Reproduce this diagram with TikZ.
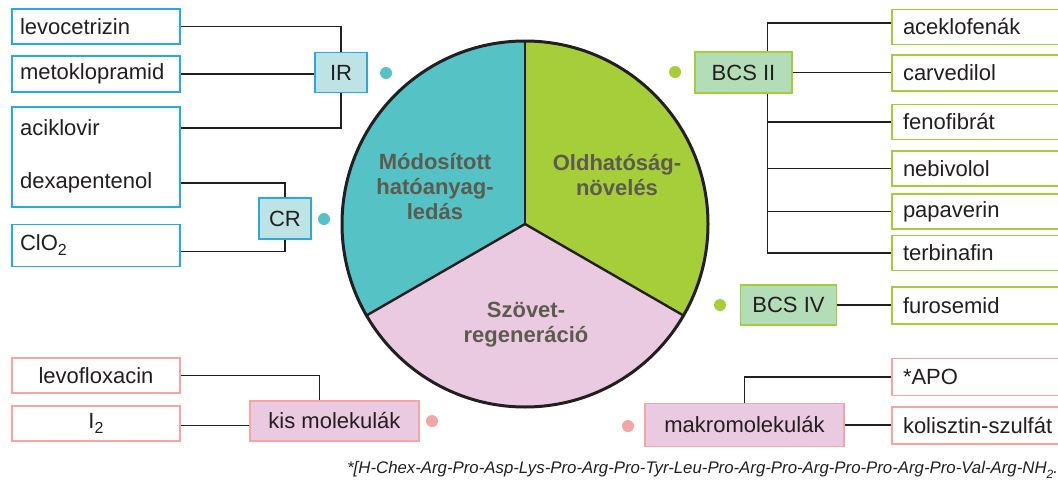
\documentclass[tikz,border=0pt]{standalone}
\usepackage{fontspec}
\setmainfont{Liberation Sans}
\usepackage{tikz}
\usetikzlibrary{positioning}
\usepackage{xcolor}
\definecolor{bluebor}{HTML}{27AAE1}
\definecolor{irfill}{HTML}{BDE3E5}
\definecolor{tealpie}{HTML}{55C2C5}
\definecolor{greenbor}{HTML}{A5CD39}
\definecolor{bcsfill}{HTML}{B3DDB6}
\definecolor{greenpie}{HTML}{A6CE39}
\definecolor{pinkbor}{HTML}{F4A5A4}
\definecolor{pinkfill}{HTML}{EACAE1}
\definecolor{darktext}{HTML}{231F20}
\definecolor{pietxt}{HTML}{5C5B4E}
\newcommand{\lowidx}[1]{\raisebox{-5pt}{\fontsize{16}{16}\selectfont #1}}

\tikzset{
  boxbase/.style = {line width=1.8pt, inner sep=0pt, text=darktext, font=\fontsize{22}{26}\selectfont},
  leftbox/.style = {boxbase, draw=bluebor, fill=white, minimum width=168pt, text width=152pt, inner xsep=8pt, align=left},
  rightbox/.style = {boxbase, draw=greenbor, fill=white, minimum width=180pt, text width=158pt, inner xsep=11pt, align=left},
  pinkbox/.style = {boxbase, draw=pinkbor, fill=white, minimum width=168pt, align=center},
  catbox/.style = {boxbase, align=center},
  plain/.style = {inner sep=0pt, text=darktext, font=\fontsize{22}{26}\selectfont},
  dotmark/.style = {circle, inner sep=0pt, minimum size=12pt},
  pietext/.style = {align=center, text=pietxt, font=\bfseries\fontsize{22}{25}\selectfont},
  conn/.style = {line width=1.8pt, darktext}
}

\begin{document}
\begin{tikzpicture}[x=1pt, y=-1pt]
\useasboundingbox (0,0) rectangle (1058,482);

\coordinate (c) at (525,224);
\fill[tealpie] (c) -- ++(-90:183) arc[start angle=-90, end angle=-210, radius=183] -- cycle;
\fill[greenpie] (c) -- ++(-90:183) arc[start angle=-90, end angle=30, radius=183] -- cycle;
\fill[pinkfill] (c) -- ++(30:183) arc[start angle=30, end angle=150, radius=183] -- cycle;
\draw[line width=2.4pt, darktext] (c) -- ++(-90:183);
\draw[line width=2.4pt, darktext] (c) -- ++(30:183);
\draw[line width=2.4pt, darktext] (c) -- ++(150:183);
\draw[line width=3pt, darktext] (c) circle (183);

\node[pietext] (modos) at (435,187) {Módosított\\hatóanyag-\\ledás};
\node[pietext] (oldh) at (617,175) {Oldhatóság-\\növelés};
\node[pietext] (szov) at (526,325) {Szövet-\\regeneráció};

\node[leftbox, minimum height=35pt] (levo) at (96,26.5) {levocetrizin};
\node[leftbox, minimum height=36pt] (meto) at (96,74) {metoklopramid};
\node[leftbox, minimum height=100pt] (acbox) at (96,157) {};
\node[plain, anchor=west] (acik) at (20,128) {aciklovir};
\node[plain, anchor=west] (dexa) at (20,183) {dexapentenol};
\node[leftbox, minimum height=42pt] (clo) at (96,245.5) {ClO\lowidx{2}};

\node[catbox, draw=bluebor, fill=irfill, minimum width=52pt, minimum height=40pt] (ir) at (341,72.5) {IR};
\node[catbox, draw=bluebor, fill=irfill, minimum width=52pt, minimum height=41pt] (cr) at (285,218.5) {CR};
\node[dotmark, fill=tealpie] (irdot) at (386,73) {};
\node[dotmark, fill=tealpie] (crdot) at (324,219) {};

\draw[conn] (levo.east) -| (ir.north);
\draw[conn] (meto.east) -- (meto.east -| ir.west);
\draw[conn] (acbox.east |- acik) -| (ir.south);
\draw[conn] (acbox.east |- dexa) -| (cr.north);
\draw[conn] ([yshift=-6pt]clo.east) -| (cr.south);

\node[catbox, draw=greenbor, fill=bcsfill, minimum width=97pt, minimum height=41pt] (bcsii) at (743.5,72.5) {BCS II};
\node[dotmark, fill=greenpie] (bcsiidot) at (675,72) {};
\node[rightbox, minimum height=35pt] (acek) at (982,27) {aceklofenák};
\node[rightbox, minimum height=36pt] (carv) at (982,73) {carvedilol};
\node[rightbox, minimum height=35pt] (feno) at (982,122) {fenofibrát};
\node[rightbox, minimum height=35pt] (nebi) at (982,168.5) {nebivolol};
\node[rightbox, minimum height=35pt] (papa) at (982,211.5) {papaverin};
\node[rightbox, minimum height=35pt] (terb) at (982,253) {terbinafin};

\coordinate (trunk) at ([xshift=24pt]bcsii.south);
\draw[conn] ([yshift=4pt]acek.west) -| ([xshift=24pt]bcsii.north);
\draw[conn] (bcsii.east) -- (bcsii.east -| carv.west);
\draw[conn] (trunk) |- (terb.west);
\foreach \n in {feno,nebi,papa}
  \draw[conn] (\n.west) -- (\n.west -| trunk);

\node[catbox, draw=greenbor, fill=bcsfill, minimum width=96pt, minimum height=40pt] (bcsiv) at (788.5,305) {BCS IV};
\node[dotmark, fill=greenpie] (bcsivdot) at (720,305) {};
\node[rightbox, minimum height=37pt] (furo) at (982,305.5) {furosemid};
\draw[conn] (bcsiv.east) -- (bcsiv.east -| furo.west);

\node[catbox, draw=pinkbor, fill=pinkfill, minimum width=199pt, minimum height=43pt] (makro) at (744.5,425) {makromolekulák};
\node[dotmark, fill=pinkbor] (makrodot) at (628,426) {};
\node[rightbox, draw=pinkbor, minimum height=37pt] (apo) at (982,377) {*APO};
\node[rightbox, draw=pinkbor, minimum height=37pt] (kol) at (982,425.5) {kolisztin-szulfát};
\draw[conn] (makro.north) |- (apo.west);
\draw[conn] (makro.east) -- (makro.east -| kol.west);

\node[catbox, draw=pinkbor, fill=pinkfill, minimum width=169pt, minimum height=40pt] (kis) at (334.5,421) {kis molekulák};
\node[dotmark, fill=pinkbor] (kisdot) at (432,421) {};
\node[pinkbox, minimum height=35pt] (levofl) at (96,375.5) {levofloxacin};
\node[pinkbox, minimum height=35pt] (itwo) at (96,423.5) {I\lowidx{2}};
\draw[conn] (levofl.east) -| ([xshift=-15pt]kis.north);
\draw[conn] ([yshift=-2pt]itwo.east) -- ([yshift=-2pt]itwo.east -| kis.west);

\node[anchor=base west, inner sep=0pt, text=darktext, font=\itshape\fontsize{16.8}{18}\selectfont] (note) at (347,473) {*[H-Chex-Arg-Pro-Asp-Lys-Pro-Arg-Pro-Tyr-Leu-Pro-Arg-Pro-Arg-Pro-Pro-Arg-Pro-Val-Arg-NH\lowidx{\fontsize{12}{12}\selectfont 2}.};
\end{tikzpicture}
\end{document}
